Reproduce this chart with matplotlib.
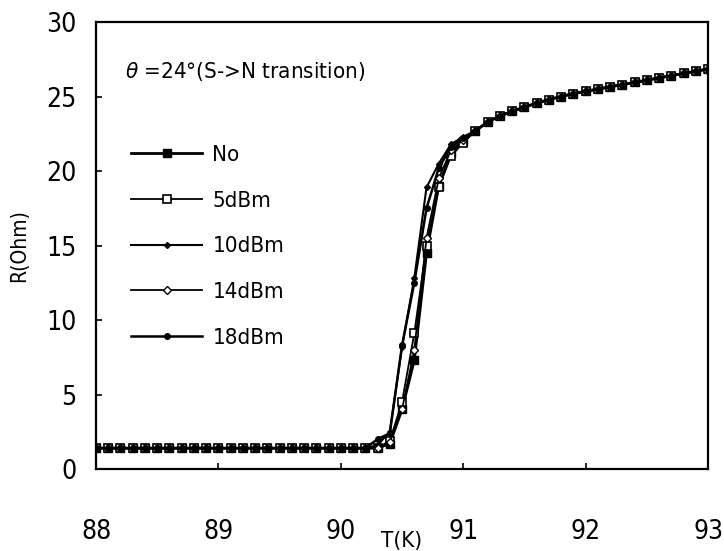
import matplotlib
matplotlib.use("Agg")
import matplotlib.pyplot as plt
import numpy as np

# plateau below Tc, shared by all runs (step 0.1 K)
t_low = [88.0, 88.1, 88.2, 88.3, 88.4, 88.5, 88.6, 88.7, 88.8, 88.9,
         89.0, 89.1, 89.2, 89.3, 89.4, 89.5, 89.6, 89.7, 89.8, 89.9,
         90.0, 90.1, 90.2]
r_low = [1.4] * len(t_low)

# transition region, read per curve
t_mid = [90.3, 90.4, 90.5, 90.6, 90.7, 90.8, 90.9, 91.0]
r_no = [1.4, 1.7, 4.0, 7.3, 14.5, 19.0, 21.2, 22.0]
r_5 = [1.4, 1.9, 4.5, 9.1, 15.0, 18.9, 21.0, 21.9]
r_10 = [1.6, 2.5, 8.2, 12.8, 18.9, 20.5, 21.8, 22.3]
r_14 = [1.4, 1.8, 4.0, 8.0, 15.5, 19.5, 21.4, 22.1]
r_18 = [2.0, 2.4, 8.3, 12.5, 17.5, 20.2, 21.6, 22.2]

# normal state, shared
t_high = [91.1, 91.2, 91.3, 91.4, 91.5, 91.6, 91.7, 91.8, 91.9, 92.0,
          92.1, 92.2, 92.3, 92.4, 92.5, 92.6, 92.7, 92.8, 92.9, 93.0]
r_high = [22.7, 23.3, 23.7, 24.0, 24.3, 24.55, 24.8, 25.0, 25.2, 25.35,
          25.5, 25.65, 25.8, 25.95, 26.1, 26.25, 26.4, 26.55, 26.7, 26.85]

labels = ['No', '5dBm', '10dBm', '14dBm', '18dBm']
mids = [r_no, r_5, r_10, r_14, r_18]

plt.rcParams['font.family'] = ['DejaVu Sans']
plt.rcParams['font.stretch'] = 'condensed'

fig = plt.figure(figsize=(7.24, 5.51), dpi=100)
ax = fig.add_axes([0.1326, 0.1488, 0.8454, 0.8112])

styles = [
    dict(marker='s', ms=6, mfc='k', mec='k', lw=2.0),
    dict(marker='s', ms=6, mfc='w', mec='k', mew=1.2, lw=1.3),
    dict(marker='D', ms=3, mfc='k', mec='k', lw=1.5),
    dict(marker='D', ms=4, mfc='w', mec='k', mew=1.0, lw=1.3),
    dict(marker='o', ms=4, mfc='k', mec='k', lw=1.8),
]

t_all = np.array(t_low + t_mid + t_high)
for lab, mid, st in zip(labels, mids, styles):
    r_all = np.array(r_low + mid + r_high)
    ax.plot(t_all, r_all, color='k', label=lab, **st)

ax.set_xlim(88, 93)
ax.set_ylim(0, 30)
ax.set_xticks([88, 89, 90, 91, 92, 93])
ax.set_yticks([0, 5, 10, 15, 20, 25, 30])
ax.tick_params(direction='in', length=4, width=1.2, labelsize=19)
ax.tick_params(axis='x', pad=36)
ax.tick_params(axis='y', pad=14)
for s in ax.spines.values():
    s.set_linewidth(1.6)

ax.set_xlabel('T(K)', fontsize=16)
ax.xaxis.set_label_coords(0.50, -0.138)
ax.set_ylabel('R(Ohm)', fontsize=15)
ax.yaxis.set_label_coords(-0.11, 0.5)

ax.text(0.048, 0.875, r'$\theta$ =24°(S->N transition)', transform=ax.transAxes,
        fontsize=16)

ax.legend(loc='upper left', bbox_to_anchor=(0.025, 0.77), frameon=False,
          fontsize=16, handlelength=3.2, labelspacing=1.16, handletextpad=0.45)

fig.savefig('out.png', dpi=100)
